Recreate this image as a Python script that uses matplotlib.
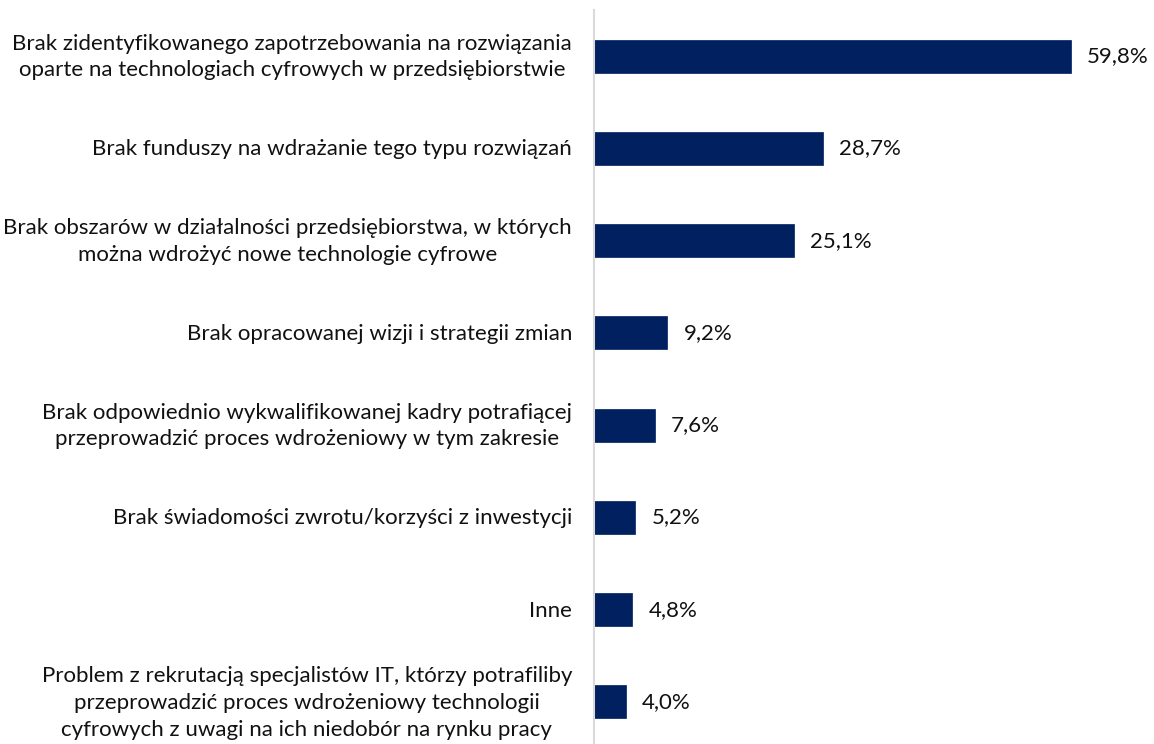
import matplotlib.pyplot as plt
import numpy as np

plt.rcParams["font.family"] = ["Lato", "DejaVu Sans"]

categories = [
    "Brak zidentyfikowanego zapotrzebowania na rozwiązania\noparte na technologiach cyfrowych w przedsiębiorstwie",
    "Brak funduszy na wdrażanie tego typu rozwiązań",
    "Brak obszarów w działalności przedsiębiorstwa, w których\nmożna wdrożyć nowe technologie cyfrowe",
    "Brak opracowanej wizji i strategii zmian",
    "Brak odpowiednio wykwalifikowanej kadry potrafiącej\nprzeprowadzić proces wdrożeniowy w tym zakresie",
    "Brak świadomości zwrotu/korzyści z inwestycji",
    "Inne",
    "Problem z rekrutacją specjalistów IT, którzy potrafiliby\nprzeprowadzić proces wdrożeniowy technologii\ncyfrowych z uwagi na ich niedobór na rynku pracy",
]
values = [59.8, 28.7, 25.1, 9.2, 7.6, 5.2, 4.8, 4.0]

W, H = 1154, 744
fig = plt.figure(figsize=(W / 100, H / 100), dpi=100)
# axes: left edge at the grey axis line, category band from y=10px down past the bottom
left, top, bottom = 594, 10, 748
ax = fig.add_axes([left / W, (H - bottom) / H, (W - left) / W, (bottom - top) / H])

y = np.arange(len(categories))
ax.barh(y, values, height=0.36, color="#002060", edgecolor="#002060", linewidth=0.5)

ax.set_xlim(0, (W - left) / 7.98)
ax.set_ylim(len(categories) - 0.5, -0.5)

# value labels to the right of each bar
for yi, v in zip(y, values):
    ax.annotate(f"{v:.1f}%".replace(".", ","), (v, yi), xytext=(16, 0),
                textcoords="offset pixels",
                va="center", ha="left", fontsize=16, color="#111111")

# category labels, right-aligned against the axis, lines centred on each other
for yi, cat in zip(y, categories):
    ax.annotate(cat, (0, yi), xycoords=("axes fraction", "data"),
                xytext=(-22, -1), textcoords="offset pixels",
                ha="right", va="center", multialignment="center",
                fontsize=16, color="#111111", linespacing=1.42,
                annotation_clip=False)

ax.set_yticks([])
ax.set_xticks([])

for s in ["top", "right", "bottom"]:
    ax.spines[s].set_visible(False)
ax.spines["left"].set_color("#d9d9d9")
ax.spines["left"].set_linewidth(1.5)

fig.savefig("out.png", dpi=100)
